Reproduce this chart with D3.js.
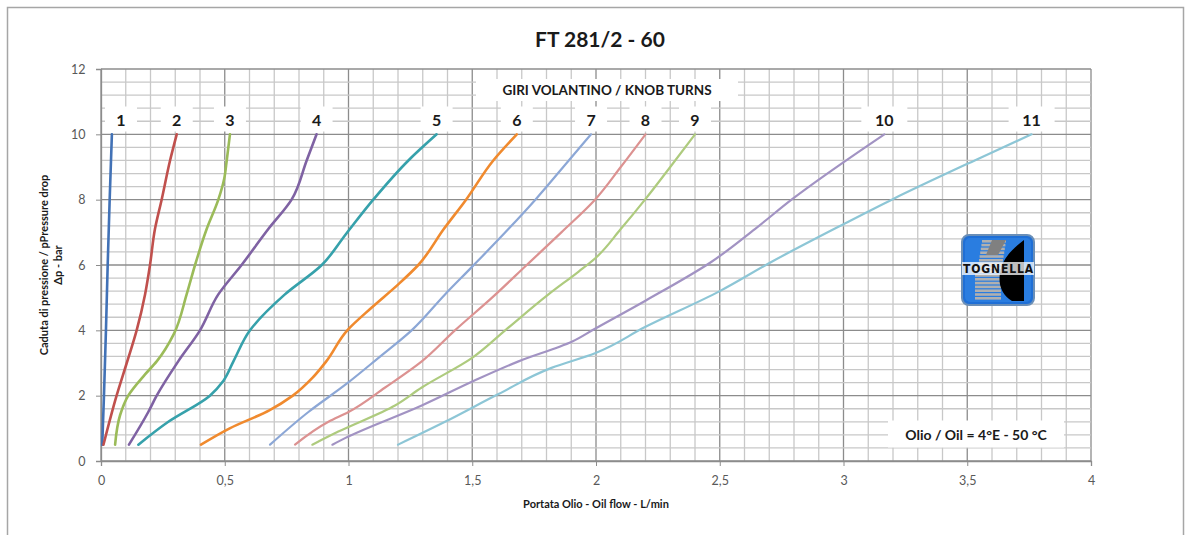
<!DOCTYPE html>
<html><head><meta charset="utf-8">
<script src="https://cdn.jsdelivr.net/npm/d3@7"></script>
<style>body{margin:0;background:#fff;} svg{display:block;font-family:Lato,"Open Sans",sans-serif;}</style>
</head><body>
<svg id="c" width="1189" height="535"></svg>
<script>
// ---- data ----
const title = "FT 281/2 - 60";
const turns = ["1","2","3","4","5","6","7","8","9","10","11"];
const colors = ["#4272b6","#c0504d","#9bbb59","#7f62a3","#36a1ab","#f08a2e","#8ca7d6","#dc9291","#aecb7e","#a293c3","#8dc6d6"];
const xTicks = [0,0.5,1,1.5,2,2.5,3,3.5,4];
const yTicks = [0,2,4,6,8,10,12];
const s1 = [[0.005,0.5],[0.012,2],[0.02,4],[0.027,6],[0.035,8],[0.044,10]];
const s2 = [[0.01,0.5],[0.063,2],[0.104,3],[0.144,4],[0.178,5.1],[0.198,6],[0.218,7.1],[0.245,8],[0.279,9.2],[0.306,10]];
const s3 = [[0.057,0.5],[0.077,1.4],[0.11,2],[0.178,2.65],[0.225,3.05],[0.295,3.9],[0.346,5.1],[0.38,6],[0.427,7.1],[0.474,8],[0.498,8.65],[0.508,9.2],[0.521,10]];
const s4 = [[0.113,0.5],[0.191,1.5],[0.225,2],[0.312,3.05],[0.4,4],[0.474,5.1],[0.568,6],[0.676,7.1],[0.77,8],[0.831,9.2],[0.871,10]];
const s5 = [[0.151,0.5],[0.272,1.2],[0.44,2],[0.494,2.45],[0.535,3.05],[0.602,4],[0.743,5.1],[0.892,6],[0.99,6.95],[1.1,8],[1.242,9.2],[1.356,10]];
const s6 = [[0.404,0.5],[0.52,1.0],[0.68,1.55],[0.775,2],[0.855,2.55],[0.91,3.05],[0.995,4],[1.094,4.7],[1.2,5.4],[1.282,6],[1.385,7.1],[1.475,8],[1.585,9.2],[1.68,10]];
const s7 = [[0.683,0.5],[0.838,1.5],[0.99,2.35],[1.12,3.15],[1.255,4],[1.39,5.1],[1.5,5.95],[1.646,7.1],[1.755,8],[1.89,9.2],[1.98,10]];
const s8 = [[0.784,0.5],[0.919,1.2],[1.0,1.5],[1.148,2.25],[1.296,3.05],[1.43,4],[1.58,5],[1.72,6],[1.86,7],[1.996,8],[2.1,9],[2.2,10]];
const s9 = [[0.854,0.5],[0.959,0.9],[1.188,1.7],[1.296,2.25],[1.498,3.15],[1.633,4],[1.808,5.1],[1.93,5.8],[1.996,6.2],[2.1,7.1],[2.198,8],[2.3,9],[2.4,10]];
const s10 = [[0.935,0.5],[0.986,0.7],[1.296,1.7],[1.505,2.45],[1.687,3.05],[1.902,3.65],[1.996,4.05],[2.198,4.9],[2.467,6.1],[2.642,7.1],[2.79,8],[3.165,10]];
const s11 = [[1.2,0.5],[1.39,1.2],[1.606,2.05],[1.82,2.85],[1.996,3.3],[2.198,4.1],[2.5,5.2],[2.71,6.1],[3.0,7.25],[3.195,8],[3.53,9.2],[3.76,10]];
const series = [s1,s2,s3,s4,s5,s6,s7,s8,s9,s10,s11];

// ---- layout ----
const svg = d3.select("#c");
const L=101, R=1091, T=69, B=461;
const x = d3.scaleLinear().domain([0,4]).range([L,R]);
const y = d3.scaleLinear().domain([0,12]).range([B,T]);

// outer border
svg.append("rect").attr("x",7.5).attr("y",7.5).attr("width",1176).attr("height",540)
  .attr("fill","none").attr("stroke","#a6a6a6").attr("stroke-width",1.5);

// grid
const g = svg.append("g");
const minorX = d3.range(0,41).map(i=>i/10);
const minorY = d3.range(0,31).map(i=>i*0.4);
g.selectAll(".mx").data(minorX).join("line")
  .attr("x1",d=>x(d)).attr("x2",d=>x(d)).attr("y1",T).attr("y2",B)
  .attr("stroke",d=>Math.abs(d*2-Math.round(d*2))<1e-6?"#8c8c8c":"#c8c8c8").attr("stroke-width",1.3);
g.selectAll(".my").data(minorY).join("line")
  .attr("y1",d=>y(d)).attr("y2",d=>y(d)).attr("x1",L).attr("x2",R)
  .attr("stroke",d=>Math.abs(d/2-Math.round(d/2))<1e-6?"#8c8c8c":"#c8c8c8").attr("stroke-width",1.3);

// axes
const xa = svg.append("g").attr("transform",`translate(0,${B})`)
  .call(d3.axisBottom(x).tickValues(xTicks).tickSize(5).tickFormat(d=>String(d).replace(".",",")));
const ya = svg.append("g").attr("transform",`translate(${L},0)`)
  .call(d3.axisLeft(y).tickValues(yTicks).tickSize(5).tickFormat(d=>d));
[xa,ya].forEach(a=>{
  a.select(".domain").attr("stroke","#8c8c8c").attr("stroke-width",1.3);
  a.selectAll(".tick line").attr("stroke","#8c8c8c");
  a.selectAll("text").attr("fill","#595959").attr("font-size",12.5).attr("font-family","Lato,sans-serif");
});
xa.selectAll("text").attr("dy","1.3em");
ya.selectAll("text").attr("dx","-0.6em");

// curves (flow as a smooth monotone function of pressure)
const line = d3.line().x(d=>x(d[0])).y(d=>y(d[1])).curve(d3.curveMonotoneY);
series.forEach((s,i)=>{
  svg.append("path").attr("d",line(s)).attr("fill","none")
    .attr("stroke",colors[i]).attr("stroke-width",i<6?2.6:2.2).attr("stroke-linecap","round");
});

// labels with white boxes
function boxLabel(cx,cy,w,h,text,size){
  svg.append("rect").attr("x",cx-w/2).attr("y",cy-h/2).attr("width",w).attr("height",h).attr("fill","#fff");
  svg.append("text").attr("x",cx).attr("y",cy).attr("text-anchor","middle").attr("dominant-baseline","central")
    .attr("font-weight","bold").attr("font-size",size).attr("fill","#1a1a1a").text(text);
}
boxLabel(607,90,262,22,"GIRI VOLANTINO / KNOB TURNS",13.5);
series.forEach((s,i)=>{
  const top = s[s.length-1];
  const cx = Math.max(x(top[0]), x(0)+20);
  const w = turns[i].length>1?46:32;
  boxLabel(cx,119,w,25,turns[i],16);
});
boxLabel(976,434,176,27,"Olio / Oil = 4°E - 50 °C",14);

// title
svg.append("text").attr("x",600).attr("y",38).attr("text-anchor","middle").attr("dominant-baseline","central")
  .attr("font-weight","bold").attr("font-size",21).attr("fill","#1a1a1a").text(title);

// axis titles
svg.append("text").attr("x",596).attr("y",503).attr("text-anchor","middle").attr("dominant-baseline","central")
  .attr("font-weight","bold").attr("font-size",11).attr("fill","#1a1a1a").text("Portata Olio - Oil flow -  L/min");
const yt = svg.append("text").attr("transform","translate(44,265) rotate(-90)").attr("text-anchor","middle")
  .attr("font-weight","bold").attr("font-size",11).attr("fill","#1a1a1a");
yt.append("tspan").attr("x",0).attr("dy","0.35em").text("Caduta di pressione / pPressure drop");
yt.append("tspan").attr("x",0).attr("dy","1.3em").text("Δp - bar");

// logo
const lg = svg.append("g").attr("transform","translate(962,235)");
lg.append("rect").attr("x",0).attr("y",0).attr("width",72).attr("height",70).attr("rx",7)
  .attr("fill","#1f6fd6").attr("stroke","#6a8fb8").attr("stroke-width",2);
lg.append("rect").attr("x",3).attr("y",3).attr("width",66).attr("height",64).attr("rx",5).attr("fill","#2a7de0");
const stripes = d3.range(0,16);
lg.selectAll(".st").data(stripes).join("rect")
  .attr("x",d=>d<7?20-d*0.6:13).attr("y",d=>5+d*3.8).attr("width",d=>d<7?24:26).attr("height",2.6)
  .attr("fill","#b0b0b0");
lg.append("path").attr("d","M62,5 L62,66 L50,66 C40,60 36,50 38,38 C40,24 50,14 62,5 Z").attr("fill","#000");
lg.append("path").attr("d","M30,5 L44,5 L36,20 L24,20 Z").attr("fill","#808080");
lg.append("rect").attr("x",0).attr("y",27).attr("width",72).attr("height",13).attr("fill","#ffffff").attr("opacity",0.75);
lg.append("text").attr("x",36).attr("y",34).attr("text-anchor","middle").attr("dominant-baseline","central")
  .attr("font-weight","bold").attr("font-size",12).attr("font-family","'Liberation Sans Narrow','DejaVu Sans Condensed',sans-serif")
  .attr("fill","#111").attr("textLength",70).text("TOGNELLA");
</script>
</body></html>
